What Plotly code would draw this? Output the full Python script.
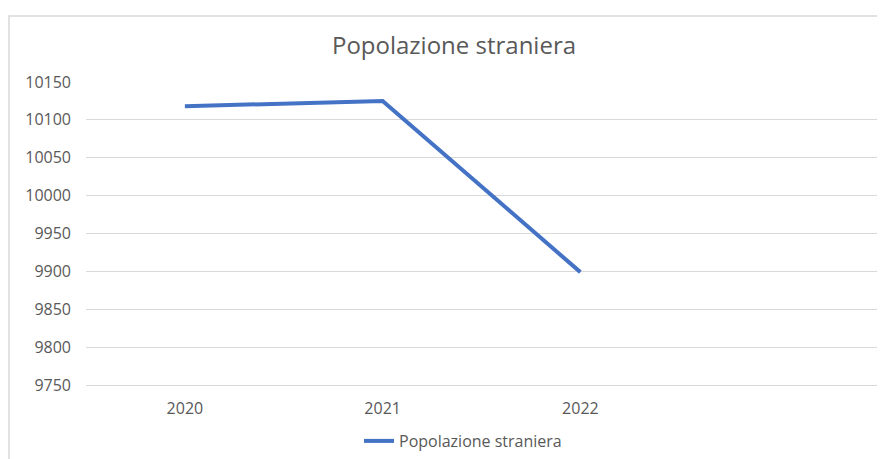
import plotly.graph_objects as go

years = ["2020", "2021", "2022"]
values = [10118, 10125, 9899]
series_name = "Popolazione straniera"
title_text = "Popolazione straniera"
y_ticks = [9750, 9800, 9850, 9900, 9950, 10000, 10050, 10100, 10150]

# page has an 8px body margin, so figure coords = page coords - 8
OFF = 8
W, H = 885, 459 - OFF
L, R, T, B = 86 - OFF, 885 - (877 - OFF), 82 - OFF, 74
pw, ph = W - L - R, H - T - B

def px_x(x):
    return (x - OFF - L) / pw

def px_y(y):
    return (H - B - (y - OFF)) / ph

fig = go.Figure()
fig.add_trace(go.Scatter(
    x=years, y=values, mode="lines", name=series_name,
    line=dict(color="#4472C4", width=4),
    showlegend=True,
))

grey = "#595959"
fig.update_layout(
    width=W, height=H,
    margin=dict(l=L, r=R, t=T, b=B, autoexpand=False),
    paper_bgcolor="white", plot_bgcolor="white",
    font=dict(family="Open Sans, Noto Sans, sans-serif", color=grey),
    title=dict(text=title_text, x=px_x(454), xref="paper", xanchor="center",
               y=1 - (46 - OFF) / H, yanchor="middle",
               font=dict(size=24, color=grey)),
    xaxis=dict(type="category", categoryorder="array", categoryarray=years,
               range=[-0.5, 3.5], showgrid=False, zeroline=False,
               showline=True, linecolor="#d9d9d9", linewidth=1,
               ticks="", tickfont=dict(size=16, color=grey),
               ticklabelstandoff=9, automargin=False, fixedrange=True),
    yaxis=dict(range=[9750, 10150], tickvals=y_ticks, tickformat="d",
               showgrid=True, gridcolor="#d9d9d9", gridwidth=1,
               zeroline=False, showline=False, ticks="",
               tickfont=dict(size=16, color=grey),
               ticklabelstandoff=14, automargin=False, fixedrange=True),
    legend=dict(orientation="h", x=px_x(359), xanchor="left",
                y=px_y(441), yanchor="middle",
                font=dict(size=16, color=grey), bgcolor="rgba(0,0,0,0)"),
    shapes=[dict(type="rect", xref="paper", yref="paper",
                 x0=px_x(9), x1=px_x(885 + 30), y0=px_y(16), y1=px_y(459 + 20),
                 line=dict(color="#d9d9d9", width=1.5), fillcolor="rgba(0,0,0,0)",
                 layer="below")],
)

fig.write_html("out.html")
